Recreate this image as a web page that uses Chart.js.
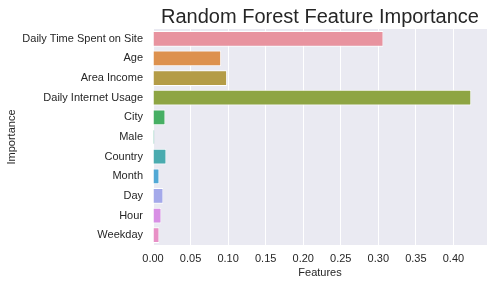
<!DOCTYPE html>
<html>
<head>
<meta charset="utf-8">
<script src="https://cdn.jsdelivr.net/npm/chart.js@4"></script>
<style>
  html, body { margin: 0; padding: 0; background: #fff; }
  #wrap { width: 494px; height: 286px; }
</style>
</head>
<body>
<div id="wrap"><canvas id="chart"></canvas></div>
<script>
// Data
const features = ['Daily Time Spent on Site', 'Age', 'Area Income', 'Daily Internet Usage',
  'City', 'Male', 'Country', 'Month', 'Day', 'Hour', 'Weekday'];
const importance = [0.3066, 0.0905, 0.0984, 0.4235, 0.0163, 0.0017, 0.0176, 0.0083, 0.0136, 0.0110, 0.0083];
const xTicks = [0, 0.05, 0.10, 0.15, 0.20, 0.25, 0.30, 0.35, 0.40];
const barColors = ['#E8939F', '#DD914E', '#B49C47', '#8EA543', '#47AF64', '#4AAE8F',
  '#4AABAF', '#51A8D5', '#A4A9EA', '#D88FE5', '#E890C6'];

const textColor = '#262626';
const fontFamily = '"Liberation Sans", Arial, sans-serif';

// Plot background + title centred on the plot area
const plotBg = {
  id: 'plotBg',
  beforeDraw(chart) {
    const { ctx, chartArea: a } = chart;
    ctx.save();
    ctx.fillStyle = '#EAEAF2';
    ctx.fillRect(a.left, a.top, a.right - a.left, a.bottom - a.top);
    ctx.restore();
  },
  afterDraw(chart) {
    const { ctx, chartArea: a } = chart;
    ctx.save();
    ctx.fillStyle = textColor;
    ctx.font = '20px ' + fontFamily;
    ctx.textAlign = 'center';
    ctx.textBaseline = 'alphabetic';
    ctx.fillText('Random Forest Feature Importance', (a.left + a.right) / 2, 23);
    ctx.restore();
  }
};

new Chart(document.getElementById('chart'), {
  type: 'bar',
  data: {
    labels: features,
    datasets: [{
      data: importance,
      backgroundColor: barColors,
      borderColor: '#ffffff',
      // tiny bars would vanish under the edge line, so skip the right edge there
      borderWidth: (c) => ({ top: 1, bottom: 1, left: 0, right: c.raw < 0.005 ? 0 : 0.8 }),
      borderSkipped: 'start',
      barPercentage: 0.8,
      categoryPercentage: 1.0
    }]
  },
  options: {
    indexAxis: 'y',
    responsive: true,
    maintainAspectRatio: false,
    animation: false,
    layout: { padding: { top: 29, right: 7, bottom: 0, left: 0 } },
    plugins: {
      legend: { display: false },
      tooltip: { enabled: false }
    },
    scales: {
      x: {
        min: 0,
        max: 0.4447,
        afterBuildTicks: (scale) => { scale.ticks = xTicks.map(v => ({ value: v })); },
        afterFit: (scale) => { scale.height = 41; },
        grid: { color: '#ffffff', lineWidth: 1, drawTicks: false },
        border: { display: false },
        ticks: {
          color: textColor,
          font: { family: fontFamily, size: 11 },
          padding: 7,
          maxRotation: 0,
          callback: (v) => Number(v).toFixed(2)
        },
        title: {
          display: true,
          text: 'Features',
          color: textColor,
          font: { family: fontFamily, size: 11 },
          padding: { top: 0, bottom: 6 }
        }
      },
      y: {
        afterFit: (scale) => { scale.width = 153; },
        grid: { display: false, drawTicks: false },
        border: { display: false },
        ticks: {
          color: textColor,
          font: { family: fontFamily, size: 11 },
          padding: 10
        },
        title: {
          display: true,
          text: 'Importance',
          color: textColor,
          font: { family: fontFamily, size: 11 },
          padding: { top: 5, bottom: 0 }
        }
      }
    }
  },
  plugins: [plotBg]
});
</script>
</body>
</html>
